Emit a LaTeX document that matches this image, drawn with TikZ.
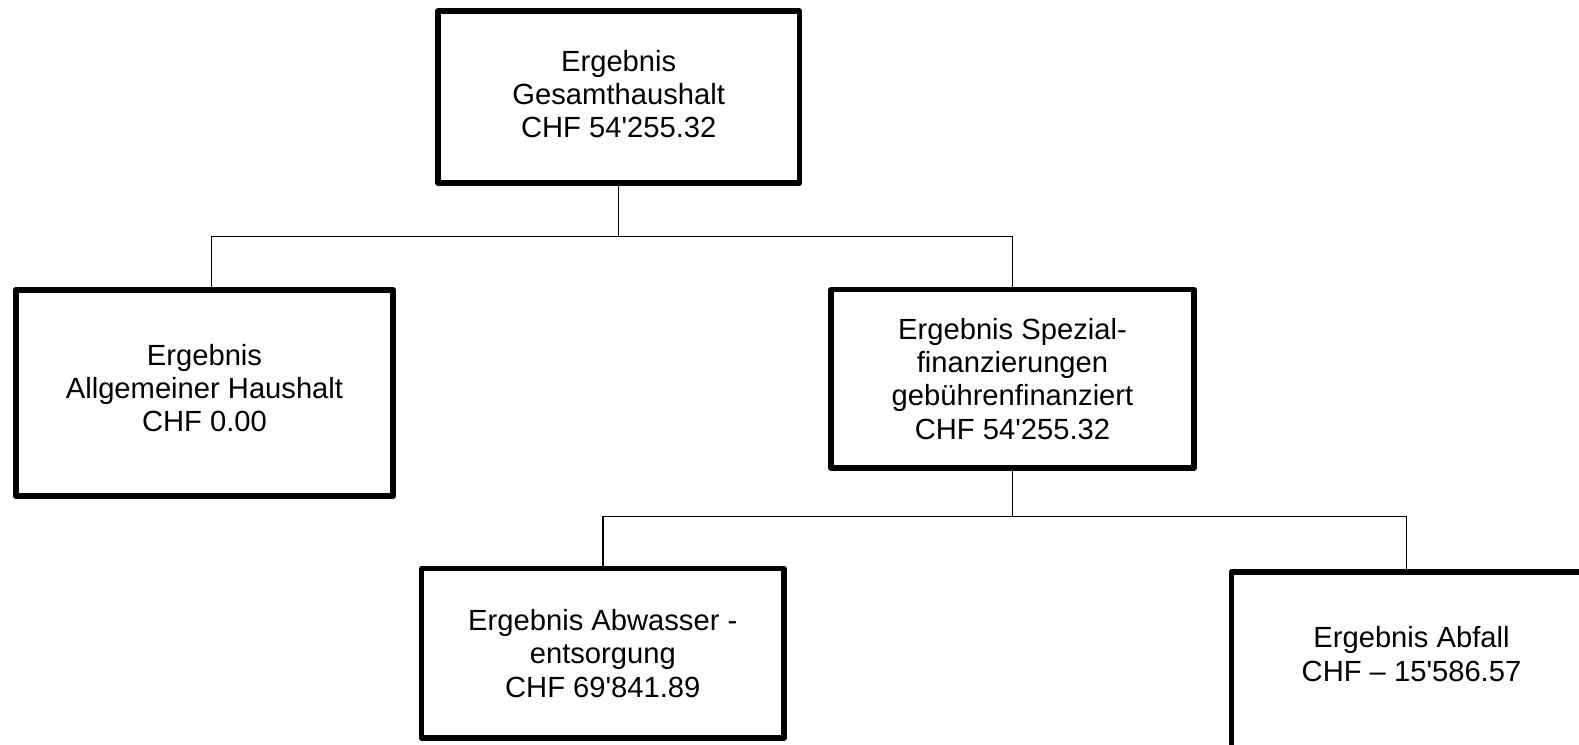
\documentclass[tikz,border=0pt]{standalone}
\usepackage{fontspec}
\setmainfont{Liberation Sans}[Ligatures=TeXOff]
\usepackage{tikz}
\usetikzlibrary{positioning}

\tikzset{
  box/.style={draw, line width=1.6pt, line join=round, rectangle, align=center,
    inner sep=0pt, font=\fontsize{8.3}{9.5}\selectfont},
  link/.style={draw, line width=0.45pt}
}

\begin{document}
\begin{tikzpicture}
 \clip (0,0) rectangle (15.79,7.44);

 \node [box, minimum width=3.615cm, minimum height=1.72cm, text depth=0.06cm] (gesamt) at (6.187,6.47)
   {Ergebnis\\Gesamthaushalt\\CHF 54'255.32};
 \node [box, minimum width=3.775cm, minimum height=2.066cm, text depth=0.1cm] (allg) at (2.045,3.51)
   {Ergebnis\\Allgemeiner Haushalt\\CHF 0.00};
 \node [box, minimum width=3.63cm, minimum height=1.783cm] (spez) at (10.125,3.652)
   {Ergebnis Spezial-\\finanzierungen\\gebührenfinanziert\\CHF 54'255.32};
 \node [box, minimum width=3.623cm, minimum height=1.693cm] (abw) at (6.028,0.907)
   {Ergebnis Abwasser -\\entsorgung\\CHF 69'841.89};
 \node [box, minimum width=3.6cm, minimum height=1.76cm, text depth=0.12cm] (abf) at (14.115,0.84)
   {Ergebnis Abfall\\CHF – 15'586.57};

 \coordinate (bus1) at (0,5.073);
 \coordinate (bus2) at (0,2.273);
 \coordinate (allgin) at ([xshift=0.07cm]allg.north);
 \coordinate (abfin) at ([xshift=-0.05cm]abf.north);

 \draw [link] (gesamt.south) -- (gesamt.south |- bus1);
 \draw [link] (allgin) |- (bus1 -| spez.north) -- (spez.north);

 \draw [link] (spez.south) -- (spez.south |- bus2);
 \draw [link] (abw.north) |- (bus2 -| abfin) -- (abfin);
\end{tikzpicture}
\end{document}
